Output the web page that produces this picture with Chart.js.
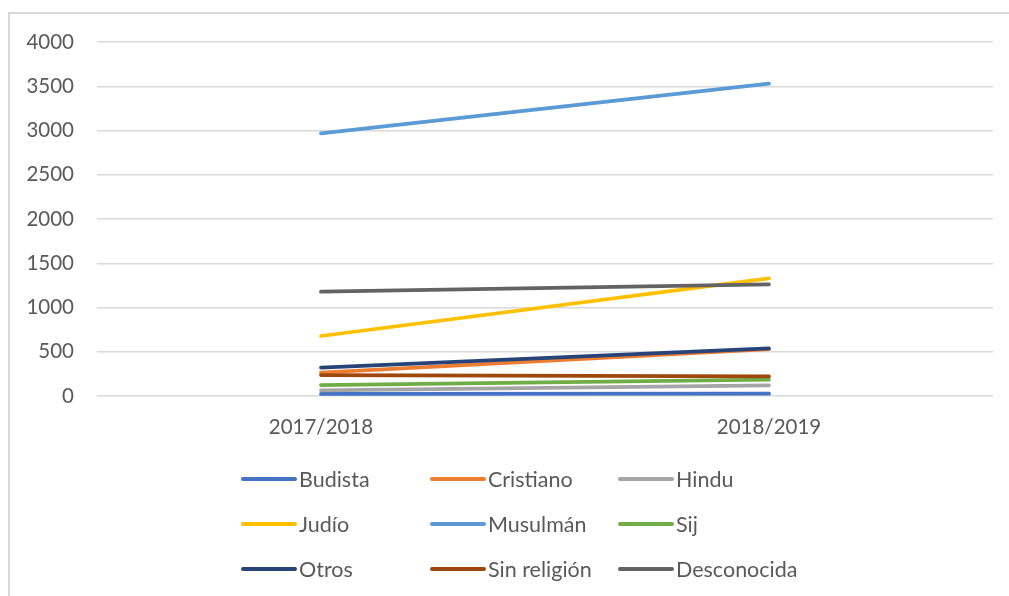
<!DOCTYPE html>
<html>
<head>
<meta charset="utf-8">
<script src="https://cdn.jsdelivr.net/npm/chart.js@4/dist/chart.umd.min.js"></script>
<style>
  html, body { margin: 0; padding: 0; background: #fff; }
  #wrap { position: relative; width: 1009px; height: 596px; overflow: hidden; }
  #frame { position: absolute; left: 8px; top: 12px; width: 1100px; height: 700px;
           border-left: 2px solid #D9D9D9; border-top: 2px solid #D9D9D9; box-sizing: border-box; }
  canvas { position: absolute; left: 0; top: 0; }
  #legend { position: absolute; left: 241px; top: 466px; display: grid;
            grid-template-columns: 189px 188px 200px; row-gap: 19px;
            font-family: Lato, "Open Sans", sans-serif; font-size: 21.5px; color: #595959; }
  .item { display: flex; align-items: center; height: 26px; white-space: nowrap; }
  .swatch { width: 56px; height: 3.5px; border-radius: 2px; margin-right: 2px; }
</style>
</head>
<body>
<div id="wrap">
  <div id="frame"></div>
  <canvas id="c" width="1009" height="596"></canvas>
  <div id="legend"></div>
</div>
<script>
const categories = ["2017/2018", "2018/2019"];
const seriesNames = ["Budista", "Cristiano", "Hindu", "Judío", "Musulmán", "Sij", "Otros", "Sin religión", "Desconocida"];
const budista = [23, 26];
const cristiano = [263, 530];
const hindu = [64, 121];
const judio = [678, 1330];
const musulman = [2967, 3530];
const sij = [124, 184];
const otros = [320, 539];
const sinReligion = [237, 222];
const desconocida = [1178, 1262];
const yTicks = [0, 500, 1000, 1500, 2000, 2500, 3000, 3500, 4000];

const seriesValues = [budista, cristiano, hindu, judio, musulman, sij, otros, sinReligion, desconocida];
const colors = ["#4472C4", "#ED7D31", "#A5A5A5", "#FFC000", "#5B9BD5", "#70AD47", "#264478", "#9E480E", "#636363"];

const datasets = seriesNames.map((name, i) => ({
  label: name,
  data: seriesValues[i],
  borderColor: colors[i],
  backgroundColor: colors[i],
  borderWidth: 3.75,
  borderCapStyle: 'round',
  pointRadius: 0,
  pointHoverRadius: 0,
  tension: 0,
  order: seriesNames.length - 1 - i
}));

const tickFont = { family: "Lato, 'Open Sans', sans-serif", size: 20.5 };

new Chart(document.getElementById('c'), {
  type: 'line',
  data: { labels: categories, datasets },
  options: {
    responsive: false,
    animation: false,
    events: [],
    layout: { padding: { top: 42, right: 16, left: 0, bottom: 0 } },
    plugins: { legend: { display: false }, tooltip: { enabled: false } },
    scales: {
      x: {
        offset: true,
        grid: { display: false, drawTicks: false },
        border: { display: false },
        ticks: { color: '#595959', font: tickFont, padding: 19, maxRotation: 0 },
        afterFit: (axis) => { axis.height = 200; }
      },
      y: {
        min: 0, max: 4000,
        afterBuildTicks: (axis) => { axis.ticks = yTicks.map(v => ({ value: v })); },
        grid: { color: '#D9D9D9', lineWidth: 1.5, drawTicks: false },
        border: { display: false },
        ticks: { color: '#595959', font: tickFont, padding: 23, callback: (v) => String(v) },
        afterFit: (axis) => { axis.width = 97; }
      }
    }
  }
});

const legend = document.getElementById('legend');
seriesNames.forEach((name, i) => {
  const item = document.createElement('div');
  item.className = 'item';
  const sw = document.createElement('span');
  sw.className = 'swatch';
  sw.style.background = colors[i];
  const t = document.createElement('span');
  t.textContent = name;
  item.appendChild(sw);
  item.appendChild(t);
  legend.appendChild(item);
});
</script>
</body>
</html>
